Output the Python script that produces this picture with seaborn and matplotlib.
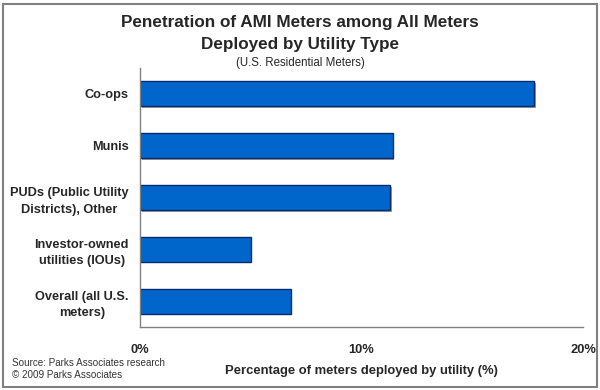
import matplotlib
matplotlib.use("Agg")
import matplotlib.pyplot as plt
import matplotlib.patheffects as pe
from matplotlib.patches import Rectangle
from matplotlib.ticker import FixedLocator, FuncFormatter
import seaborn as sns
import pandas as pd

categories = ["Co-ops", "Munis", "PUDs (Public Utility\nDistricts), Other",
              "Investor-owned\nutilities (IOUs)", "Overall (all U.S.\nmeters)"]
values = [17.8, 11.4, 11.3, 5.0, 6.8]
x_ticks = [0, 10, 20]

df = pd.DataFrame({"category": categories, "value": values})

sns.set_style("white")
plt.rcParams["font.family"] = ["Liberation Sans", "DejaVu Sans"]

fig = plt.figure(figsize=(6, 3.9), dpi=100)
ax = fig.add_axes([140/600, 1-327/390, (583-140)/600, (327-68)/390])

sns.barplot(data=df, y="category", x="value", orient="h", ax=ax,
            color="#0066CC", width=0.48, edgecolor="#0B2B6B", linewidth=1.0,
            saturation=1)
for p in ax.patches:
    p.set_path_effects([pe.SimplePatchShadow(offset=(1.2, -1.2), shadow_rgbFace="#A0A0A0", alpha=1), pe.Normal()])

ax.set_xlim(0, 20)
ax.set_ylim(len(categories)-0.5, -0.5)
ax.xaxis.set_major_locator(FixedLocator(x_ticks))
ax.xaxis.set_major_formatter(FuncFormatter(lambda v, p: f"{v:.0f}%"))
ax.tick_params(axis="x", direction="in", length=3, width=1, color="#808080",
               pad=12, labelsize=9.3)
for lbl in ax.get_xticklabels():
    lbl.set_fontweight("bold")

ax.yaxis.set_minor_locator(FixedLocator([i - 0.5 for i in range(len(categories)+1)]))
ax.tick_params(axis="y", which="major", length=0, pad=8, labelsize=9.2)
ax.tick_params(axis="y", which="minor", length=4, width=1, color="#808080", direction="out")
for lbl in ax.get_yticklabels():
    lbl.set_fontweight("bold")
    lbl.set_horizontalalignment("right")
    lbl.set_multialignment("center")
    lbl.set_linespacing(1.5)

ax.set_ylabel("")
ax.set_xlabel("Percentage of meters deployed by utility (%)", fontsize=9.4,
              fontweight="bold", labelpad=6.5)

for s in ["top", "right"]:
    ax.spines[s].set_visible(False)
for s in ["left", "bottom"]:
    ax.spines[s].set_color("#808080")
    ax.spines[s].set_linewidth(1)

fig.text(0.5, 1-22.5/390, "Penetration of AMI Meters among All Meters",
         ha="center", va="center", fontsize=12.3, fontweight="bold")
fig.text(0.5, 1-44/390, "Deployed by Utility Type",
         ha="center", va="center", fontsize=12.3, fontweight="bold")
fig.text(0.5, 1-63/390, "(U.S. Residential Meters)",
         ha="center", va="center", fontsize=8.3)

fig.text(12/600, 1-363.5/390, "Source: Parks Associates research",
         ha="left", va="center", fontsize=7.1, color="#333333")
fig.text(12/600, 1-375.5/390, "\u00a9 2009 Parks Associates",
         ha="left", va="center", fontsize=7.1, color="#333333")

fig.patches.append(Rectangle((3/600, 3/390), 594/600, 383/390, transform=fig.transFigure,
                             fill=False, edgecolor="#808080", linewidth=1.5))

fig.savefig("out.png", dpi=100)
